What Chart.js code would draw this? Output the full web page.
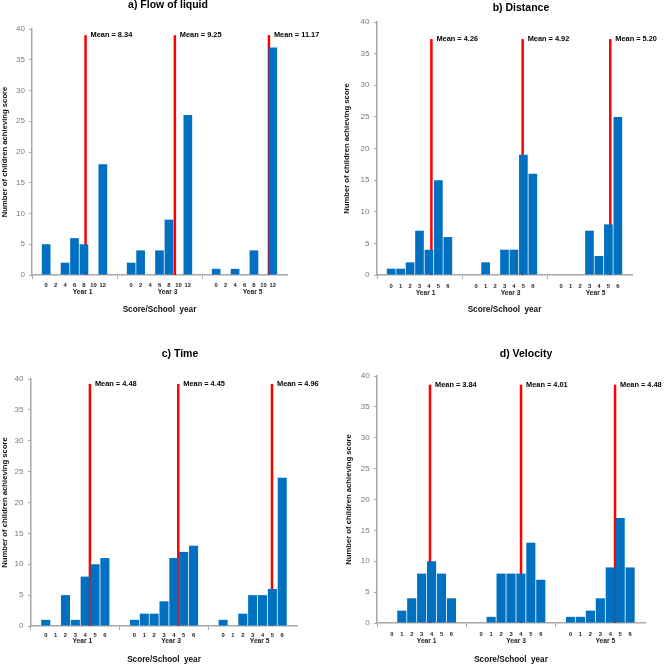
<!DOCTYPE html>
<html>
<head>
<meta charset="utf-8">
<title>Number of children achieving score</title>
<script src="https://cdn.jsdelivr.net/npm/chart.js@4.4.1/dist/chart.umd.min.js"></script>
<style>
    body { margin: 0; background: #fff; }
    #wrap { position: relative; width: 668px; height: 664px; }
    #wrap canvas { position: absolute; }
</style>
</head>
<body>
<div id="wrap">
    <canvas id="flow" width="334" height="332" style="left:0;top:0"></canvas>
    <canvas id="distance" width="334" height="332" style="left:334px;top:0"></canvas>
    <canvas id="time" width="334" height="332" style="left:0;top:332px"></canvas>
    <canvas id="velocity" width="334" height="332" style="left:334px;top:332px"></canvas>
</div>
<script>
// score labels under the bars
var flowScores = ['0', '2', '4', '6', '8', '10', '12'];
var scores = ['0', '1', '2', '3', '4', '5', '6'];
var years = ['Year 1', 'Year 3', 'Year 5'];

// a) flow of liquid
var flowYear1 = [5, 0, 2, 6, 5, 0, 18];
var flowYear3 = [2, 4, 0, 4, 9, 0, 26];
var flowYear5 = [1, 0, 1, 0, 4, 0, 37];
var flowMeans = [8.34, 9.25, 11.17];

// b) distance
var distYear1 = [1, 1, 2, 7, 4, 15, 6];
var distYear3 = [0, 2, 0, 4, 4, 19, 16];
var distYear5 = [0, 0, 0, 7, 3, 8, 25];
var distMeans = [4.26, 4.92, 5.20];

// c) time
var timeYear1 = [1, 0, 5, 1, 8, 10, 11];
var timeYear3 = [1, 2, 2, 4, 11, 12, 13];
var timeYear5 = [1, 0, 2, 5, 5, 6, 24];
var timeMeans = [4.48, 4.45, 4.96];

// d) velocity
var velYear1 = [0, 2, 4, 8, 10, 8, 4];
var velYear3 = [0, 1, 8, 8, 8, 13, 7];
var velYear5 = [1, 1, 2, 4, 9, 17, 9];
var velMeans = [3.84, 4.01, 4.48];

var FONT = "'Liberation Sans', Arial, sans-serif";
var BLUE = '#0070c0';
var RED = '#ff0000';
var AXIS = '#a8a8a8';
var SLOTS = 9; // blank, 7 scores, blank

// one empty slot before and after every year
function padGroups(groups, blank) {
    var out = [];
    groups.forEach(function (g) {
        out.push(blank);
        g.forEach(function (v) { out.push(v); });
        out.push(blank);
    });
    return out;
}

// heading and "Mean = x" labels
var panelText = {
    id: 'panelText',
    afterDraw: function (chart, args, opts) {
        var ctx = chart.ctx;
        ctx.save();
        ctx.fillStyle = '#000';
        ctx.textBaseline = 'middle';
        ctx.textAlign = 'center';
        ctx.font = 'bold 10.5px ' + FONT;
        ctx.fillText(opts.title, opts.titleX, opts.titleY);

        ctx.font = 'bold 7.4px ' + FONT;
        ctx.textAlign = 'left';
        chart.data.datasets.forEach(function (ds, i) {
            if (ds.type !== 'line') return;
            var top = chart.getDatasetMeta(i).data[1];
            ctx.fillText(ds.label, top.x + 5, top.y);
        });
        ctx.restore();
    }
};

var panels = [
    { id: 'flow', title: 'a) Flow of liquid', scores: flowScores, step: 2,
      counts: [flowYear1, flowYear3, flowYear5], means: flowMeans, meanTop: 39,
      left: 32, top: 29, right: 287, bottom: 275, titleX: 168, titleY: 5,
      yTitlePad: 0.5, yTickPad: 4, xTickPad: 3, yearGap: 13.6, xTitlePad: 17.9, yearShift: 8 },
    { id: 'distance', title: 'b) Distance', scores: scores, step: 1,
      counts: [distYear1, distYear3, distYear5], means: distMeans, meanTop: 37.3,
      left: 43, top: 22, right: 298, bottom: 275, titleX: 187, titleY: 8,
      yTitlePad: 8.4, yTickPad: 4.5, xTickPad: 4, yearGap: 14.6, xTitlePad: 17.9, yearShift: 6 },
    { id: 'time', title: 'c) Time', scores: scores, step: 1,
      counts: [timeYear1, timeYear3, timeYear5], means: timeMeans, meanTop: 39.2,
      left: 31, top: 47, right: 297, bottom: 294, titleX: 180, titleY: 22,
      yTitlePad: 0, yTickPad: 4.5, xTickPad: 2.1, yearGap: 11.6, xTitlePad: 0, yearShift: 7 },
    { id: 'velocity', title: 'd) Velocity', scores: scores, step: 1,
      counts: [velYear1, velYear3, velYear5], means: velMeans, meanTop: 38.6,
      left: 43, top: 44, right: 311, bottom: 291, titleX: 192, titleY: 22,
      yTitlePad: 10.4, yTickPad: 4.3, xTickPad: 4, yearGap: 14.6, xTitlePad: 0, yearShift: 5 }
];

function drawPanel(p) {
    var canvas = document.getElementById(p.id);
    var W = canvas.width, H = canvas.height;
    var labels = padGroups(years.map(function () { return p.scores; }), '');

    var datasets = [{
        type: 'bar',
        data: padGroups(p.counts, null),
        backgroundColor: BLUE,
        borderWidth: 0,
        grouped: false,
        barPercentage: 0.92,
        categoryPercentage: 1,
        order: 1
    }];

    // red mean lines, drawn behind the bars
    p.means.forEach(function (m, g) {
        var pos = g * SLOTS + 1 + m / p.step;
        datasets.push({
            type: 'line',
            label: 'Mean = ' + m.toFixed(2),
            xAxisID: 'xl',
            data: [{ x: pos, y: 0 }, { x: pos, y: p.meanTop }],
            borderColor: RED,
            borderWidth: 2.5,
            borderCapStyle: 'butt',
            pointRadius: 0,
            order: 2
        });
    });

    new Chart(canvas.getContext('2d'), {
        type: 'bar',
        data: { labels: labels, datasets: datasets },
        options: {
            responsive: false,
            animation: false,
            layout: { padding: { top: p.top, right: W - p.right, bottom: 0, left: 0 } },
            plugins: {
                legend: { display: false },
                tooltip: { enabled: false },
                panelText: { title: p.title, titleX: p.titleX, titleY: p.titleY }
            },
            scales: {
                x: {
                    weight: 0,
                    offset: true,
                    afterFit: function (s) { s.height = p.yearGap; },
                    grid: {
                        offset: true,
                        drawOnChartArea: false,
                        tickLength: 4,
                        color: function (c) { return c.index % SLOTS === 0 ? AXIS : 'rgba(0,0,0,0)'; }
                    },
                    border: { color: AXIS, width: 1.5 },
                    ticks: {
                        autoSkip: false,
                        maxRotation: 0,
                        padding: p.xTickPad,
                        color: '#222',
                        font: { family: FONT, size: 5.8, weight: 'bold', lineHeight: 1 }
                    }
                },
                x2: {
                    type: 'category',
                    labels: years,
                    position: 'bottom',
                    weight: 1,
                    offset: true,
                    afterFit: function (s) { s.height = H - p.bottom - p.yearGap; },
                    grid: { display: false, drawTicks: false },
                    border: { display: false },
                    ticks: {
                        padding: 0,
                        labelOffset: p.yearShift,
                        color: '#222',
                        font: { family: FONT, size: 6.7, weight: 'bold', lineHeight: 1 }
                    },
                    title: {
                        display: true,
                        text: 'Score/School  year',
                        color: '#111',
                        padding: { top: 0, bottom: p.xTitlePad },
                        font: { family: FONT, size: 8.2, weight: 'bold', lineHeight: 1 }
                    }
                },
                // hidden linear twin of x, used to place the mean lines
                xl: {
                    type: 'linear',
                    display: false,
                    offset: false,
                    grid: { offset: false },
                    min: -0.5,
                    max: years.length * SLOTS - 0.5
                },
                y: {
                    min: 0,
                    max: 40,
                    afterFit: function (s) { s.width = p.left; },
                    grid: { drawOnChartArea: false, tickLength: 3, color: AXIS },
                    border: { color: AXIS, width: 1.5 },
                    ticks: {
                        stepSize: 5,
                        padding: p.yTickPad,
                        color: '#7a7a7a',
                        font: { family: FONT, size: 8 }
                    },
                    title: {
                        display: true,
                        text: 'Number of children achieving score',
                        color: '#111',
                        padding: { top: p.yTitlePad, bottom: 0 },
                        font: { family: FONT, size: 7.7, weight: 'bold', lineHeight: 1.2 }
                    }
                }
            }
        },
        plugins: [panelText]
    });
}

panels.forEach(drawPanel);
</script>
</body>
</html>
